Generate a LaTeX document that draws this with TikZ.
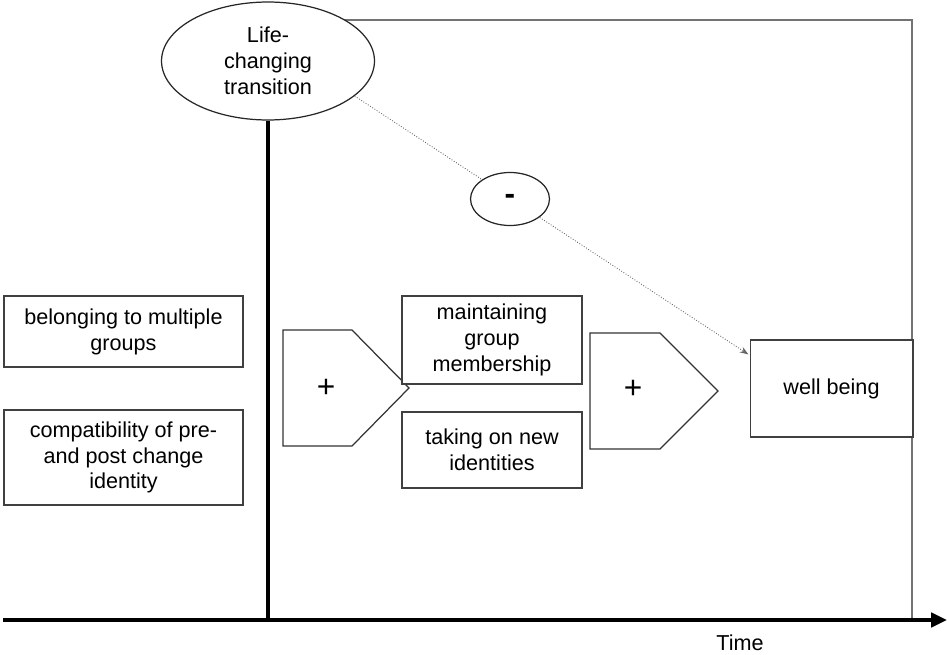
\documentclass[tikz,border=0pt]{standalone}
\usepackage{fontspec}
\setmainfont{Liberation Sans}
\usetikzlibrary{arrows.meta,shapes.geometric,calc}

\begin{document}
\begin{tikzpicture}[
        x=0.02cm, y=-0.02cm,
        font=\fontsize{12.3}{14.7}\selectfont,
        box/.style={
                draw=black!75,
                line width=0.6pt,
                fill=white,
                align=center,
                inner sep=2pt
            },
        bubble/.style={ellipse, draw=black!85, line width=0.7pt, fill=white, inner sep=0pt, align=center},
        pent/.style={draw=black!80, line width=0.7pt, fill=white, line join=miter},
        sign/.style={font=\fontsize{18}{20}\selectfont},
        link/.style={-{Stealth[length=5pt,width=3.5pt]}, densely dotted, draw=black!60, line width=0.5pt},
        axis/.style={line width=2.7pt, -{Triangle[length=9pt,width=8pt]}},
    ]
    \useasboundingbox (0,0) rectangle (949,655);

    % frame of the time window
    \coordinate (topL) at (268,20);
    \coordinate (topR) at (912,20);
    \coordinate (botR) at (912,620);
    \draw[black!55, line width=0.9pt] (topL) -- (topR) -- (botR);

    % time axis
    \coordinate (tstart) at (3,620);
    \coordinate (tend) at (947,620);
    \coordinate (origin) at (268,620);
    \draw[axis] (tstart) -- (tend);
    \node (time) at (740,643) {Time};

    \node[bubble, minimum width=4.26cm, minimum height=2.36cm] (life) at (268,61) {Life-\\changing\\transition};
    \draw[line width=2.1pt] (life.south) -- (origin);

    % moderators
    \node[box, minimum width=4.78cm, minimum height=1.42cm] (multi) at (123.5,331.5) {belonging to multiple\\groups};
    \node[box, minimum width=4.78cm, minimum height=1.9cm] (compat) at (123.5,457.5) {compatibility of pre-\\and post change\\identity};

    % first step
    \draw[pent] (283,330) -- (352,330) -- (409,388) -- (352,446) -- (283,446) -- cycle;
    \node[sign] (plusA) at (326,388) {+};

    \node[box, minimum width=3.6cm, minimum height=1.76cm] (maintain) at (492,340) {maintaining\\group\\membership};
    \node[box, minimum width=3.6cm, minimum height=1.52cm] (newid) at (492,450) {taking on new\\identities};

    % second step
    \draw[pent] (590,333) -- (660,333) -- (718,391) -- (660,449) -- (590,449) -- cycle;
    \node[sign] (plusB) at (633,389) {+};

    \node[box, minimum width=3.26cm, minimum height=1.94cm] (well) at (831.5,388.5) {well being};

    % direct negative path
    \coordinate (tip) at ($(well.north west)+(-1,15)$);
    \draw[link] (life.-22) -- (tip);
    \node[bubble, minimum width=1.58cm, minimum height=1.06cm] (minus) at (510,199) {\fontsize{18}{20}\selectfont\bfseries -};

\end{tikzpicture}
\end{document}
